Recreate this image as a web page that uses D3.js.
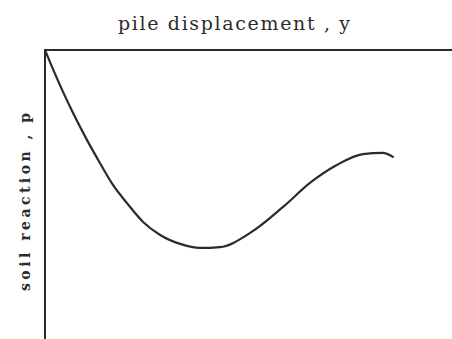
<!DOCTYPE html>
<html>
<head>
<meta charset="utf-8">
<script src="https://cdn.jsdelivr.net/npm/d3@7"></script>
<style>
  html, body { margin: 0; padding: 0; background: #fff; }
  svg { display: block; }
</style>
</head>
<body>
<svg id="chart" width="452" height="339"></svg>
<script>
// p-y curve: soil reaction against pile displacement (arbitrary units)
const displacement = [0, 0.07, 0.42, 0.69, 1.03, 1.35, 1.67, 2.01, 2.41, 2.83, 3.32, 3.81, 4.30, 5.04, 5.85, 6.51, 7.17, 7.81, 8.30, 8.55];
const reaction     = [0, 0.24, 1.38, 2.18, 3.11, 3.91, 4.67, 5.29, 5.95, 6.40, 6.71, 6.85, 6.82, 6.33, 5.43, 4.60, 3.98, 3.60, 3.56, 3.70];
const xTitle = "pile displacement , y";
const yTitle = "soil reaction , p";

const svg = d3.select("#chart");
const W = 452, H = 339;
const marginLeft = 45, marginTop = 50;

const x = d3.scaleLinear().domain([0, 10]).range([marginLeft, W]);
const y = d3.scaleLinear().domain([0, 10]).range([marginTop, H]);

const ink = "#2b2b2b";

// axes: displacement along the top, reaction down the left side
svg.append("line")
  .attr("x1", x(0)).attr("x2", x(10))
  .attr("y1", y(0)).attr("y2", y(0))
  .attr("stroke", ink).attr("stroke-width", 2);
svg.append("line")
  .attr("x1", x(0)).attr("x2", x(0))
  .attr("y1", y(0)).attr("y2", y(10))
  .attr("stroke", ink).attr("stroke-width", 2);

const pts = displacement.map((d, i) => [d, reaction[i]]);
const line = d3.line()
  .x(d => x(d[0]))
  .y(d => y(d[1]))
  .curve(d3.curveMonotoneX);

svg.append("path")
  .datum(pts)
  .attr("d", line)
  .attr("fill", "none")
  .attr("stroke", ink)
  .attr("stroke-width", 2.2)
  .attr("stroke-linecap", "round")
  .attr("stroke-linejoin", "round");

svg.append("text")
  .attr("x", 234).attr("y", 30)
  .attr("text-anchor", "middle")
  .attr("font-family", "DejaVu Serif, serif")
  .attr("font-size", 19)
  .attr("fill", ink)
  .attr("textLength", 232)
  .attr("lengthAdjust", "spacing")
  .text(xTitle);

svg.append("text")
  .attr("transform", "translate(29.5,202) rotate(-90)")
  .attr("text-anchor", "middle")
  .attr("font-family", "DejaVu Serif, serif")
  .attr("font-size", 14)
  .attr("font-weight", "bold")
  .attr("fill", ink)
  .attr("textLength", 178)
  .attr("lengthAdjust", "spacing")
  .text(yTitle);
</script>
</body>
</html>
